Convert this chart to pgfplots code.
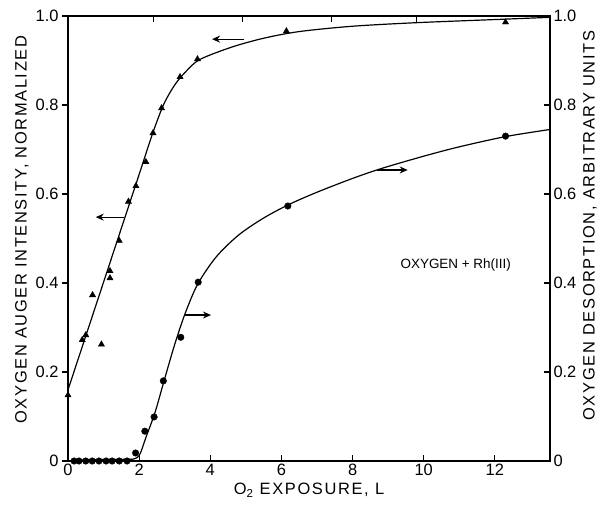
\documentclass[border=0pt]{standalone}
\usepackage{fontspec}
\setmainfont{Liberation Sans}
\newfontfamily\widefont[LetterSpace=10]{Liberation Sans}
\usepackage{pgfplots}
\pgfplotsset{compat=1.18}
\usetikzlibrary{arrows.meta}

% measured points (triangles: Auger, circles: desorption)
\pgfplotstableread{
x y
0.00 0.148
0.40 0.272
0.50 0.283
0.69 0.373
0.94 0.262
1.18 0.427
1.18 0.411
1.44 0.495
1.70 0.583
1.91 0.618
2.19 0.672
2.39 0.737
2.63 0.793
3.15 0.863
3.64 0.903
6.14 0.966
12.30 0.986
}\auger
\pgfplotstableread{
x y
0.17 0.0
0.31 0.0
0.50 0.0
0.68 0.0
0.87 0.0
1.07 0.0
1.24 0.0
1.44 0.0
1.66 0.0
1.90 0.018
2.16 0.067
2.42 0.099
2.68 0.180
3.17 0.278
3.66 0.402
6.18 0.573
12.30 0.730
}\desorb

\pgfplotsset{
  base/.style={width=482bp, height=445bp, scale only axis,
    xmin=0, xmax=13.55, ymin=0, ymax=1,
    axis line style={line width=1.4pt},
    tick style={line width=1.1pt, black},
    major tick length=6bp,
    tick label style={font=\fontsize{16.5}{18}\selectfont},
    /pgf/number format/assume math mode=true,
    label style={font=\widefont\fontsize{16.5}{19}\selectfont}},
}

\begin{document}
\begin{tikzpicture}
\begin{axis}[base, name=main, clip=false,
  tick align=inside,
  xtick={0,2,4,6,8,10,12}, xtick pos=lower,
  ytick={0,0.2,0.4,0.6,0.8,1}, yticklabels={0,0.2,0.4,0.6,0.8,1.0},
  ytick pos=right, yticklabel pos=right,
  xlabel={O\textsubscript{2} EXPOSURE, L},
  ylabel={OXYGEN DESORPTION, ARBITRARY UNITS},
  ylabel style={at={(ticklabel cs:0.52)}, xshift=4bp},
]
% Auger fit curve
\addplot[black, line width=1.2pt, smooth, tension=0.5] coordinates {
(0,0.160) (0.5,0.281) (1.0,0.402) (1.5,0.523) (2.0,0.644) (2.4,0.741)
(2.7,0.803) (3.0,0.845) (3.3,0.874) (3.7,0.902) (4.6,0.930) (5.5,0.950)
(6.5,0.965) (8.0,0.977) (9.8,0.985) (12.0,0.992) (13.55,0.997)};
% desorption fit curve
\addplot[black, line width=1.2pt] coordinates {(0.1,0.002) (1.8,0.004)};
\addplot[black, line width=1.2pt, smooth, tension=0.5] coordinates {
(1.8,0.004) (2.0,0.012) (2.2,0.055) (2.45,0.110) (2.7,0.180) (3.0,0.262)
(3.3,0.333) (3.65,0.398) (4.17,0.459) (4.8,0.508) (5.5,0.546) (6.2,0.576)
(7.0,0.604) (8.0,0.635) (8.8,0.657) (10.0,0.685) (11.0,0.706) (12.3,0.729)
(13.55,0.745)};
\addplot[only marks, mark=triangle*, mark size=3.6pt, black] table {\auger};
\addplot[only marks, mark=*, mark size=3.3pt, black] table {\desorb};
% arrows showing which scale each curve uses
\draw[line width=1.1pt, -{Stealth[length=8bp,width=7bp]}] (axis cs:4.96,0.948) -- (axis cs:4.05,0.948);
\draw[line width=1.1pt, -{Stealth[length=8bp,width=7bp]}] (axis cs:1.58,0.548) -- (axis cs:0.78,0.548);
\draw[line width=1.1pt, -{Stealth[length=8bp,width=7bp]}] (axis cs:3.27,0.328) -- (axis cs:4.02,0.328);
\draw[line width=1.1pt, -{Stealth[length=8bp,width=7bp]}] (axis cs:8.70,0.654) -- (axis cs:9.55,0.654);
\node[font=\fontsize{13.5}{15}\selectfont] at (axis cs:10.9,0.44) {OXYGEN + Rh(III)};
\end{axis}
\begin{axis}[base,
  axis y line*=left, axis x line=none, tick align=outside,
  ytick={0,0.2,0.4,0.6,0.8,1}, yticklabels={0,0.2,0.4,0.6,0.8,1.0},
  ylabel={OXYGEN AUGER INTENSITY, NORMALIZED},
  ylabel style={at={(ticklabel cs:0.52)}, anchor=south},
]
\end{axis}
\begin{axis}[base,
  axis x line*=top, axis y line=none, tick align=inside,
  xtick={2.4,4.9,7.4,9.8}, xticklabels={},
]
\end{axis}
\pgfresetboundingbox
\path ([shift={(-68bp,-46bp)}]main.south west) rectangle ([shift={(60bp,16bp)}]main.north east);
\end{tikzpicture}
\end{document}
